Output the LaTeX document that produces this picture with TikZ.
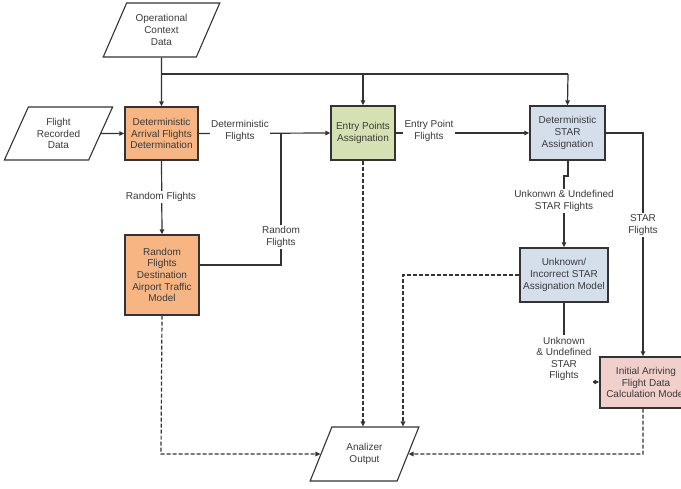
\documentclass[tikz,border=0pt]{standalone}
\usepackage{fontspec}
\setmainfont{Liberation Sans}
\usetikzlibrary{shapes.geometric,arrows.meta,calc}
\definecolor{lineC}{HTML}{333333}
\definecolor{textC}{HTML}{3A3A3A}
\definecolor{orangeF}{HTML}{F7B583}
\definecolor{greenF}{HTML}{D5E1B2}
\definecolor{blueF}{HTML}{D5DFEB}
\definecolor{pinkF}{HTML}{F1CFCB}
\begin{document}
\begin{tikzpicture}[x=1pt,y=-1pt,
  every node/.style={font=\fontsize{10}{11.6}\selectfont, text=textC, align=center},
  proc/.style={draw=lineC, line width=1.3pt, rectangle, inner sep=1pt},
  iobox/.style={draw=lineC, line width=1.1pt, trapezium, trapezium left angle=61, trapezium right angle=119, trapezium stretches=true, inner sep=1pt},
  flow/.style={draw=lineC, line width=1.2pt},
  arr/.style={flow, -{Triangle[length=5pt,width=4.5pt]}},
  darr/.style={arr, dash pattern=on 4pt off 2pt},
  lab/.style={fill=white, inner sep=1.5pt}
]
\useasboundingbox (0,0) rectangle (681,489);
\clip (0,0) rectangle (681,489);

% nodes
\node[iobox, minimum width=117, minimum height=54] (ocd) at (161.5,30) {Operational\\Context\\Data};
\node[iobox, minimum width=109, minimum height=53] (frd) at (58.5,133.5) {Flight\\Recorded\\Data};
\node[proc, fill=orangeF, minimum width=73, minimum height=53] (det) at (161.5,133.5) {Deterministic\\Arrival Flights\\Determination};
\node[proc, fill=orangeF, minimum width=74, minimum height=80] (rnd) at (162,275) {Random\\Flights\\Destination\\Airport Traffic\\Model};
\node[proc, fill=greenF, minimum width=64, minimum height=54] (ent) at (363,133) {Entry Points\\Assignation};
\node[proc, fill=blueF, minimum width=75, minimum height=54] (star) at (567.5,133) {Deterministic\\STAR\\Assignation};
\node[proc, fill=blueF, minimum width=88, minimum height=54] (unk) at (564,275) {Unknown/\\Incorrect STAR\\Assignation Model};
\node[proc, fill=pinkF, minimum width=92, minimum height=51] (init) at (646,382.5) {Initial Arriving\\Flight Data\\Calculation Model};
\node[iobox, minimum width=109, minimum height=54] (ana) at (364.5,454) {Analizer\\Output};

% coordinates
\coordinate (j1) at (161,74);
\coordinate (j2) at (363,74);
\coordinate (j3) at (568,74);
\coordinate (jr) at (281,133);
\coordinate (jr2) at (281,265);
\coordinate (s1) at (643,133);
\coordinate (u1) at (568,176);
\coordinate (u2) at (564,176);
\coordinate (u3) at (564,382);
\coordinate (d1) at (161,454);
\coordinate (d2) at (403,275);
\coordinate (d3) at (643,454);

% solid connectors
\draw[arr] (ocd.south) -- (det.north);
\draw[flow] (j1) -- (j3);
\draw[arr] (j2) -- (ent.north);
\draw[arr] (j3) -- (star.north);
\draw[arr] (frd.east) -- (det.west);
\draw[arr] (det.east) -- (ent.west);
\draw[flow] (jr) -- (jr2) -- (rnd.east |- jr2);
\draw[arr] (det.south) -- (rnd.north);
\draw[arr] (ent.east) -- (star.west);
\draw[arr] (star.east) -- (s1) -- (s1 |- init.north);
\draw[arr] (star.south -| u1) -- (u1) -- (u2) -- (u2 |- unk.north);
\draw[arr] (unk.south) -- (u3) -- (init.west |- u3);

% dashed connectors
\draw[darr] (rnd.south) -- (d1) -- (ana.west);
\draw[darr] (ent.south) -- (ent.south |- ana.north);
\draw[darr] (unk.west) -- (d2) -- (d2 |- ana.north);
\draw[darr] (init.south -| d3) -- (d3) -- (ana.east);

% labels
\node[lab] (l1) at (240,131) {Deterministic\\Flights};
\node[lab] (l2) at (281,237) {Random\\Flights};
\node[lab] (l3) at (161,197) {Random Flights};
\node[lab] (l4) at (429,131) {Entry Point\\Flights};
\node[lab] (l5) at (643,225) {STAR\\Flights};
\node[lab] (l6) at (564,201) {Unkonwn \& Undefined\\STAR Flights};
\node[lab] (l7) at (564,359) {Unknown\\\& Undefined\\STAR\\Flights};
\end{tikzpicture}
\end{document}
